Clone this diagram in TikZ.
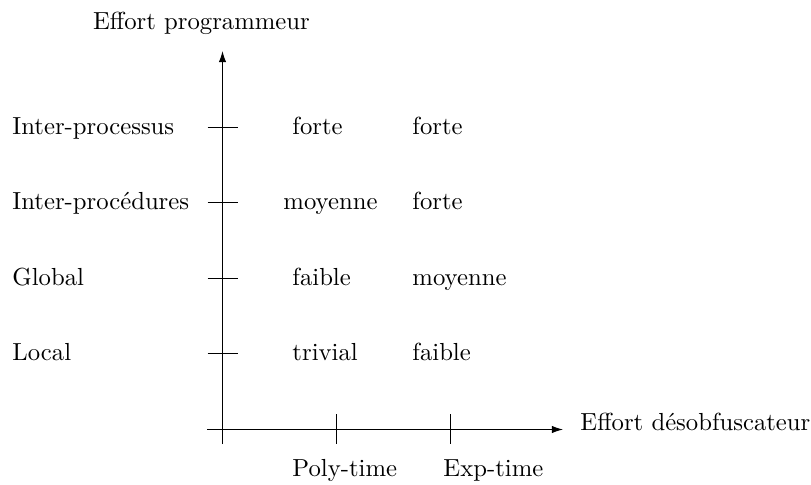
\documentclass[tikz,border=0pt]{standalone}
\usetikzlibrary{arrows.meta}
\begin{document}
\begin{tikzpicture}[x=0.405pt,y=-0.405pt,
  axis/.style={line width=0.4pt,-{Latex[length=4.5pt,width=3pt]}},
  tick/.style={line width=0.4pt},
  lbl/.style={inner sep=0pt,anchor=base west},
  ctr/.style={inner sep=0pt,anchor=base}]
\useasboundingbox (0,0) rectangle (811,484);
% axes
\coordinate (yb) at (222.5,444);
\coordinate (yt) at (222.5,51);
\coordinate (xl) at (207,429.5);
\coordinate (xr) at (563,429.5);
\draw[axis] (yb) -- (yt);
\draw[axis] (xl) -- (xr);
% y ticks
\foreach \y/\n in {127/a,202.5/b,278/c,353.5/d}{
  \coordinate (tl\n) at (207.5,\y);
  \coordinate (tr\n) at (237.5,\y);
  \draw[tick] (tl\n) -- (tr\n);
}
% x ticks
\foreach \x/\n in {336/p,450/e}{
  \coordinate (tt\n) at (\x,414);
  \coordinate (tb\n) at (\x,444);
  \draw[tick] (tt\n) -- (tb\n);
}
% axis titles
\node[ctr] (ytitle) at (201.5,29) {Effort programmeur};
\node[lbl] (xtitle) at (580,430) {Effort désobfuscateur};
\node[lbl] (poly) at (292,476) {Poly-time};
\node[lbl] (exp) at (443,476) {Exp-time};
% row labels
\node[lbl] (r1) at (12,134) {Inter-processus};
\node[lbl] (r2) at (12,209.5) {Inter-procédures};
\node[lbl] (r3) at (12,285) {Global};
\node[lbl] (r4) at (12,360.5) {Local};
% cells
\node[lbl] (c11) at (292,134) {forte};
\node[lbl] (c21) at (283,209.5) {moyenne};
\node[lbl] (c31) at (292,285) {faible};
\node[lbl] (c41) at (292,360.5) {trivial};
\node[lbl] (c12) at (412,134) {forte};
\node[lbl] (c22) at (412,209.5) {forte};
\node[lbl] (c32) at (412,285) {moyenne};
\node[lbl] (c42) at (412,360.5) {faible};
\end{tikzpicture}
\end{document}
